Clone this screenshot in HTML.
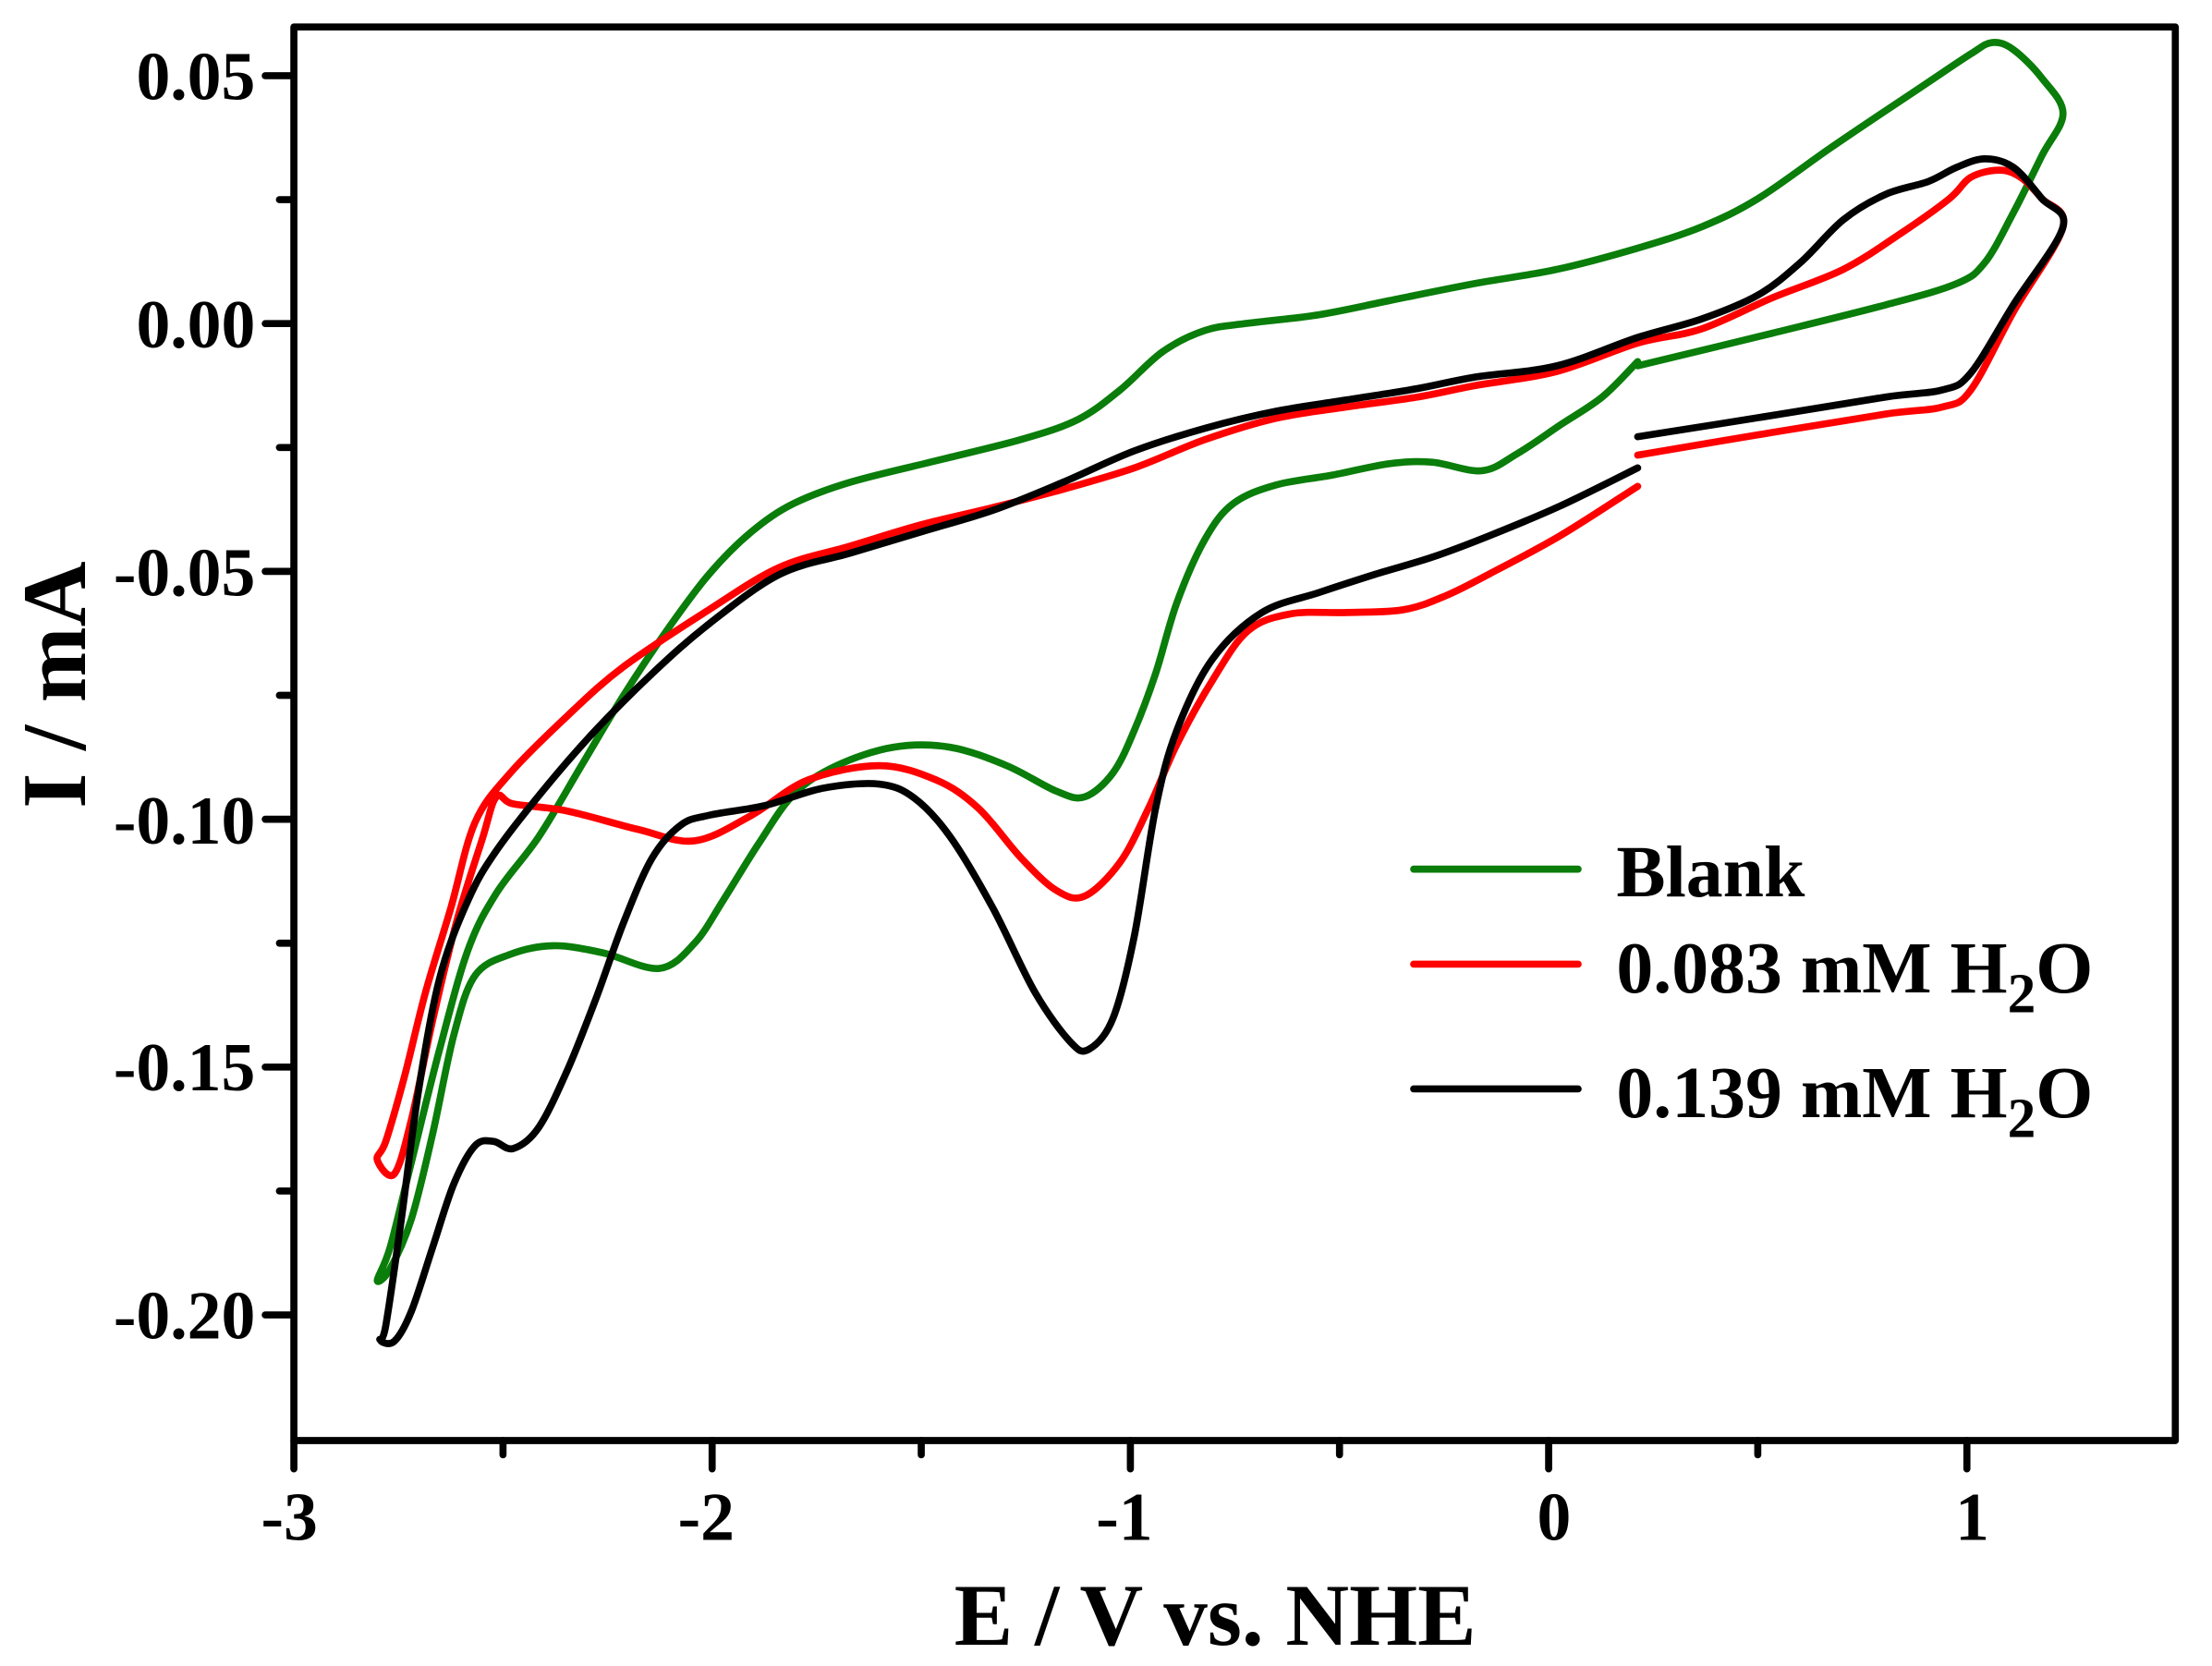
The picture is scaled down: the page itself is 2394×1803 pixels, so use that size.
<!DOCTYPE html>
<html><head><meta charset="utf-8"><style>
html,body{margin:0;padding:0;background:#fff;}
svg{display:block;}
text{font-family:"Liberation Serif",serif;font-weight:bold;fill:#000;}
</style></head><body>
<svg width="2394" height="1803" viewBox="0 0 1560 1175" xmlns="http://www.w3.org/2000/svg">
<g fill="none" stroke-linejoin="round" stroke-linecap="round" stroke-width="5">
<polyline class="c" stroke="#0a7d0a" points="1155,258 1250,235 1330,215 1380,200 1400,185 1420,150 1440,110 1455,80 1440,55 1420,35 1405,30 1390,38 1360,58 1330,78 1290,105 1240,140 1200,160 1155,175 1098,190 1040,200 980,212 930,222 880,228 850,233 820,248 790,275 760,296 720,310 660,325 600,340 560,355 530,375 500,405 470,445 440,490 410,540 380,590 350,630 330,670 310,740 290,820 275,880 266,903 275,895 290,860 305,800 320,730 335,688 360,673 390,667 425,672 465,683 490,665 510,635 535,595 560,560 590,540 630,527 670,527 710,540 745,558 765,562 785,545 800,515 815,475 830,425 850,380 870,355 900,342 940,335 980,327 1010,326 1045,332 1070,320 1100,300 1130,280 1155,255"/>
<polyline class="c" stroke="#ff0000" points="1155,321 1250,305 1330,292 1370,287 1390,275 1420,220 1455,160 1440,140 1425,125 1410,120 1390,125 1375,140 1340,165 1300,190 1250,210 1200,232 1155,242 1098,262 1040,272 1000,280 950,287 900,295 850,310 800,330 750,345 700,358 650,370 600,385 550,400 500,430 440,470 400,505 360,545 335,580 318,640 300,700 285,760 272,805 266,818 278,828 290,790 305,720 322,650 340,592 350,562 362,567 400,572 450,585 490,593 530,575 570,550 620,540 660,550 690,570 720,605 745,628 765,632 790,608 810,570 830,525 855,480 880,445 910,433 950,432 990,430 1020,420 1050,405 1100,378 1155,343"/>
<polyline class="c" stroke="#000000" points="1155,308 1250,293 1330,280 1370,275 1390,263 1420,215 1455,160 1440,140 1420,118 1400,112 1380,118 1360,128 1330,137 1300,155 1270,185 1240,208 1200,225 1155,238 1098,258 1040,266 1000,274 950,282 900,290 850,302 800,318 750,340 700,360 650,375 600,390 550,405 500,440 460,475 420,515 385,555 350,600 330,635 310,690 295,770 283,860 272,935 268,945 278,946 290,925 305,880 320,835 335,808 348,805 362,810 380,795 400,755 420,705 440,650 460,605 480,582 500,575 540,568 580,556 620,553 645,563 670,590 700,640 730,700 755,735 768,740 785,718 800,660 815,570 830,515 855,465 890,432 930,418 970,405 1010,393 1050,378 1100,357 1155,330"/>
</g>
<rect x="207.2" y="19" width="1327" height="997" fill="none" stroke="#000" stroke-width="5" stroke-linejoin="round"/>
<g stroke="#000" stroke-width="5" stroke-linecap="round">
<line x1="207.2" y1="1016" x2="207.2" y2="1036"/><line x1="502.2" y1="1016" x2="502.2" y2="1036"/><line x1="797.2" y1="1016" x2="797.2" y2="1036"/><line x1="1092.2" y1="1016" x2="1092.2" y2="1036"/><line x1="1387.2" y1="1016" x2="1387.2" y2="1036"/>
<line x1="354.7" y1="1016" x2="354.7" y2="1026"/><line x1="649.7" y1="1016" x2="649.7" y2="1026"/><line x1="944.7" y1="1016" x2="944.7" y2="1026"/><line x1="1239.7" y1="1016" x2="1239.7" y2="1026"/>
<line x1="187" y1="53.4" x2="207" y2="53.4"/><line x1="187" y1="228.2" x2="207" y2="228.2"/><line x1="187" y1="403" x2="207" y2="403"/><line x1="187" y1="577.8" x2="207" y2="577.8"/><line x1="187" y1="752.6" x2="207" y2="752.6"/><line x1="187" y1="927.4" x2="207" y2="927.4"/>
<line x1="197" y1="140.8" x2="207" y2="140.8"/><line x1="197" y1="315.6" x2="207" y2="315.6"/><line x1="197" y1="490.4" x2="207" y2="490.4"/><line x1="197" y1="665.2" x2="207" y2="665.2"/><line x1="197" y1="840" x2="207" y2="840"/>
</g>
<g font-size="48" text-anchor="end">
<text x="180" y="70">0.05</text><text x="180" y="245">0.00</text><text x="180" y="420">-0.05</text><text x="180" y="595">-0.10</text><text x="180" y="769">-0.15</text><text x="180" y="944">-0.20</text>
</g>
<g font-size="48" text-anchor="middle">
<text x="204" y="1086">-3</text><text x="498" y="1086">-2</text><text x="793" y="1086">-1</text><text x="1096" y="1086">0</text><text x="1391" y="1086">1</text>
</g>
<text x="857" y="1160" font-size="62" text-anchor="middle">E / V vs. NHE</text>
<text transform="translate(60,483) rotate(-90)" font-size="64" text-anchor="middle">I / mA</text>
<g stroke-width="5" stroke-linecap="round">
<line x1="997" y1="613" x2="1113" y2="613" stroke="#0a7d0a"/>
<line x1="997" y1="680" x2="1113" y2="680" stroke="#ff0000"/>
<line x1="997" y1="768" x2="1113" y2="768" stroke="#000"/>
</g>
<g font-size="52">
<text x="1140" y="632">Blank</text>
<text x="1140" y="700">0.083 mM H<tspan font-size="40" dy="14">2</tspan><tspan dy="-14">O</tspan></text>
<text x="1140" y="788">0.139 mM H<tspan font-size="40" dy="14">2</tspan><tspan dy="-14">O</tspan></text>
</g>
</svg>
<script>
document.querySelectorAll('polyline.c').forEach(function(pl){
  var a=pl.getAttribute('points').trim().split(/\s+/).map(function(s){var q=s.split(',');return[+q[0],+q[1]];});
  var d='M'+a[0][0]+','+a[0][1];
  for(var i=0;i<a.length-1;i++){
    var p0=a[i-1]||a[i],p1=a[i],p2=a[i+1],p3=a[i+2]||a[i+1];
    var c1=[p1[0]+(p2[0]-p0[0])/6,p1[1]+(p2[1]-p0[1])/6];
    var c2=[p2[0]-(p3[0]-p1[0])/6,p2[1]-(p3[1]-p1[1])/6];
    d+=' C'+c1[0].toFixed(1)+','+c1[1].toFixed(1)+' '+c2[0].toFixed(1)+','+c2[1].toFixed(1)+' '+p2[0]+','+p2[1];
  }
  var p=document.createElementNS('http://www.w3.org/2000/svg','path');
  p.setAttribute('d',d);p.setAttribute('stroke',pl.getAttribute('stroke'));
  pl.parentNode.replaceChild(p,pl);
});
</script>
</body></html>
